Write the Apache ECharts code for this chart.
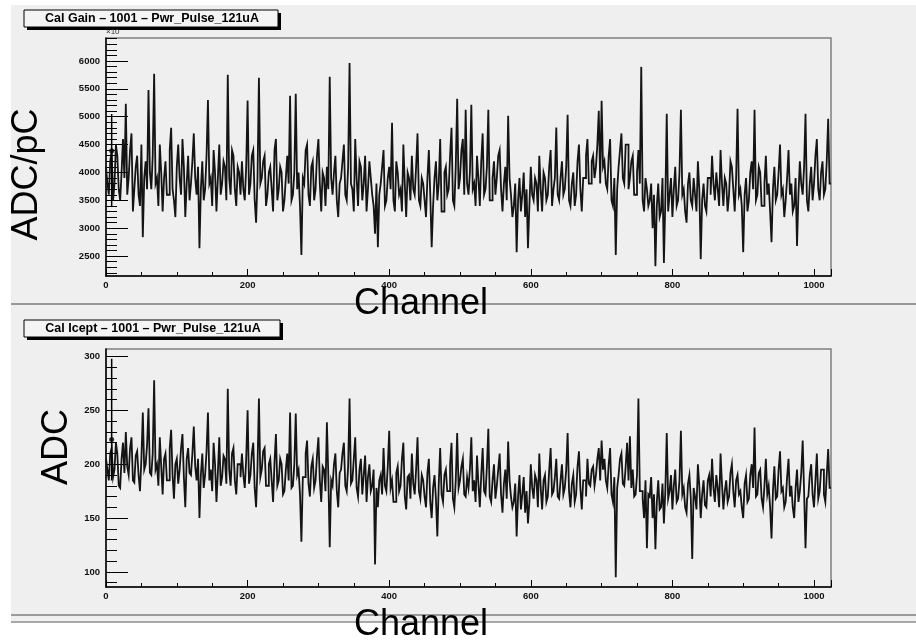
<!DOCTYPE html>
<html>
<head>
<meta charset="utf-8">
<script src="https://cdn.jsdelivr.net/npm/echarts@6/dist/echarts.min.js"></script>
<style>
  html, body { margin: 0; padding: 0; background: #ffffff; }
  #main { width: 916px; height: 642px; }
</style>
</head>
<body>
<div id="main"></div>
<script>
// channel bins, 2 channels per bin, 0..1024
var binWidth = 2;
var channelMax = 1024;

// Cal Gain values (ADC/pC), one per bin, 32 bins (64 channels) per row
var gainVals = [
  4100,3800,3600,4200,4400,3500,3800,4500,4300,3700,3500,4000,4600,3900,5230,3600,3900,4400,4700,3300,3700,4100,4300,3600,3400,4500,2840,3900,4200,3700,5480,4000,
  3700,4300,5770,3800,3900,3400,4500,4000,3300,3900,4200,3600,3600,4400,4800,3700,3500,3200,4100,4500,3900,3600,4600,4100,3200,3800,4300,3500,3800,4200,4700,3900,
  3600,4100,2640,3700,4200,3500,3700,4300,5300,3800,3900,3400,4400,4000,3300,3900,4500,3600,3800,4200,4100,3500,5750,3900,3600,4400,4300,3700,3400,4100,4000,3600,
  4200,3700,3500,4100,5290,3600,3800,4300,4400,3500,3100,3900,5700,3800,3900,4200,4300,3400,3600,4000,4100,3700,3300,4400,4600,3500,3700,4100,4000,3300,3500,3900,
  4300,3800,5375,3500,3600,4000,5410,3700,4000,3400,2520,3900,3800,4400,4500,3600,3400,4100,4200,3500,3700,4300,4600,3800,3300,4000,3900,3400,4100,3700,5714,3900,
  3600,4000,4300,3500,3200,3800,3900,4200,4500,3600,3500,4100,5964,3800,3700,3300,4600,3900,3400,4200,4100,3500,3800,4300,3300,3700,4200,3900,3600,3400,2900,3800,
  2660,3600,3800,4100,4400,3400,3500,3900,4100,3700,4893,3500,3300,4200,4000,3600,3700,3300,4500,3800,3200,4000,3900,3500,4300,3700,3600,4100,4700,3500,3400,3900,
  3800,3500,3200,3900,4400,3600,2660,3400,3900,4200,3500,3800,4600,3300,3300,4000,4100,3600,3700,4300,4800,3500,3400,4100,5320,3700,3900,4400,4600,3600,5125,3800,
  3600,4000,5214,3700,3800,3400,4300,3900,3400,4200,4700,3600,3700,4100,5125,3500,3500,3900,4200,3600,3900,4300,4400,3700,3300,3800,4100,3500,5018,3900,3600,3200,
  3400,3800,2570,3500,3900,3300,3600,4000,3200,3700,2640,3400,4100,3600,3500,3900,3800,3300,4300,3700,3300,4000,3900,3500,3600,4100,4400,3400,3700,3900,4804,3600,
  3500,3900,4200,3600,3700,4100,5036,3500,3400,3800,4000,3400,3600,4200,4500,3700,3300,3900,3900,4300,4600,3800,3800,4200,4300,3900,4100,4500,5107,3800,5286,4100,
  4200,3800,3700,4300,4600,3500,3400,3900,2518,3700,4100,4400,4700,3900,3800,4500,4500,3700,3900,4200,4300,3600,3600,4000,4400,3800,5893,3500,3300,3900,3700,3400,
  3500,3800,3000,3600,2320,3400,3800,3200,3300,3900,2375,3500,5053,3300,3600,3900,3200,3700,4100,3400,3500,4000,5125,3600,3700,3300,3100,3800,4000,3500,3400,3900,
  3600,3300,4200,3700,2446,3500,3800,3400,3300,3900,3900,3600,4300,3800,3500,4000,3700,3400,4400,3800,3400,3900,3800,3300,3600,4200,4100,3700,3300,3900,5143,3600,
  3700,3400,2571,3600,3900,3300,3500,4000,4200,3700,5125,3500,3600,4100,4000,3400,3400,3800,4300,3600,3800,3300,2750,3700,4100,3500,3600,4000,4500,3600,3700,3200,
  3500,3900,4400,3600,3800,3300,3400,3900,2680,3600,4200,3800,3600,4100,5053,3500,3300,3800,4100,3500,3800,4300,4600,3700,3500,4000,4200,3600,3700,4200,4964,3800
];

// Cal Icept values (ADC), one per bin, 32 bins (64 channels) per row
var icptVals = [
  205,195,185,210,215,188,195,220,210,180,178,205,220,192,230,198,190,215,225,185,183,208,212,190,175,205,248,195,200,218,252,192,
  190,210,278,195,200,180,225,198,172,205,210,185,185,215,232,190,168,200,205,182,195,215,228,188,160,205,215,192,190,210,235,198,
  185,205,150,190,210,178,190,212,248,185,195,175,220,200,165,192,225,180,188,208,205,182,270,195,180,210,215,185,172,200,200,188,
  210,190,178,205,250,182,190,210,220,178,160,198,261,188,195,212,215,180,180,200,205,185,165,202,228,180,185,205,200,172,175,195,
  210,185,248,178,180,200,247,190,195,172,128,188,188,210,222,182,170,198,205,178,185,208,225,185,165,198,195,175,239,190,123,185,
  180,200,210,175,160,192,195,210,220,180,175,198,261,182,185,205,225,178,170,195,205,172,190,208,165,188,200,175,180,195,107,178,
  160,185,190,172,215,180,175,198,231,178,185,165,165,192,198,175,180,205,220,170,158,188,190,168,210,182,172,195,225,175,168,190,
  185,170,160,192,205,165,150,178,190,168,133,182,215,172,165,190,195,175,175,200,220,168,160,185,229,178,185,198,205,172,170,188,
  178,195,225,175,185,165,208,182,160,190,215,175,172,198,233,170,165,185,200,168,180,195,210,172,155,182,195,168,221,185,170,160,
  165,182,133,170,190,158,172,188,155,175,145,165,200,178,168,190,185,160,210,178,158,185,190,165,170,195,215,172,175,188,205,170,
  168,185,200,172,178,195,229,175,160,182,190,165,172,198,212,178,158,185,185,170,205,182,180,195,198,180,190,205,215,185,222,195,
  205,185,178,200,215,172,165,188,95,178,190,205,210,182,180,198,220,185,226,178,195,170,172,190,261,175,175,168,150,185,122,172,
  170,188,150,172,121,165,185,158,160,182,145,175,229,168,175,190,158,180,195,165,168,185,231,172,178,160,155,182,190,168,112,178,
  170,158,200,180,150,172,185,162,160,185,190,170,205,178,165,190,178,160,210,182,158,175,185,165,170,192,200,175,160,185,190,172,
  175,160,150,182,190,165,168,190,200,178,234,170,172,192,195,168,160,180,205,172,180,160,131,175,198,168,170,195,212,175,178,160,
  165,188,205,170,180,160,150,178,195,165,175,192,222,175,122,168,170,190,200,172,160,185,210,168,175,195,195,172,165,190,214,178
];

// error bar drawn at the first channels: [low, mid, high]
var errChannel = 8;
var gainErrBar = [3400, 4390, 5050];
var icptErrBar = [185, 223, 298];

// axis ticks
var gainMajor = [2500,3000,3500,4000,4500,5000,5500,6000];
var gainMinor = [2200,2300,2400,2500,2600,2700,2800,2900,3000,3100,3200,3300,3400,3500,3600,3700,3800,3900,
  4000,4100,4200,4300,4400,4500,4600,4700,4800,4900,5000,5100,5200,5300,5400,5500,5600,5700,5800,5900,
  6000,6100,6200,6300,6400];
var icptMajor = [100,150,200,250,300];
var icptMinor = [90,100,110,120,130,140,150,160,170,180,190,200,210,220,230,240,250,260,270,280,290,300];

var gainRange = [2143, 6411];
var icptRange = [86, 307];

function toSteps(vals) {
  var d = vals.map(function (v, i) { return [i * binWidth, v]; });
  d.push([channelMax, vals[vals.length - 1]]);
  return d;
}

var chart = echarts.init(document.getElementById('main'), null, { renderer: 'canvas' });

var labelFont = { color: '#111', fontSize: 9.5, fontWeight: 'bold', fontFamily: 'Liberation Sans, Arial, sans-serif' };
var plainNum = function (v) { return String(v); };

function xAxisFor(idx) {
  return {
    type: 'value', gridIndex: idx, min: 0, max: channelMax, interval: 200,
    axisLine: { show: true, onZero: false, lineStyle: { color: '#000', width: 1.5 } },
    axisTick: { show: true, inside: true, length: 7, lineStyle: { color: '#000', width: 1 } },
    minorTick: { show: true, splitNumber: 4, length: 4, lineStyle: { color: '#000', width: 1 } },
    axisLabel: Object.assign({ margin: 4, showMaxLabel: false, formatter: plainNum }, labelFont),
    splitLine: { show: false }
  };
}

function yMajor(idx, range, ticks) {
  return {
    type: 'value', gridIndex: idx, min: range[0], max: range[1], position: 'left',
    axisLine: { show: true, onZero: false, lineStyle: { color: '#000', width: 1.5 } },
    axisTick: { show: true, inside: true, length: 22, customValues: ticks, lineStyle: { color: '#000', width: 1 } },
    axisLabel: Object.assign({ margin: 6, customValues: ticks, formatter: plainNum }, labelFont),
    splitLine: { show: false }
  };
}

function yMinor(idx, range, ticks) {
  return {
    type: 'value', gridIndex: idx, min: range[0], max: range[1], position: 'left',
    axisLine: { show: false },
    axisTick: { show: true, inside: true, length: 11, customValues: ticks, lineStyle: { color: '#000', width: 1 } },
    axisLabel: { show: false },
    splitLine: { show: false }
  };
}

function histSeries(xi, yi, vals) {
  return {
    type: 'line', xAxisIndex: xi, yAxisIndex: yi, step: 'end',
    data: toSteps(vals), showSymbol: false, symbol: 'none', silent: true,
    lineStyle: { color: '#141414', width: 1.8, join: 'miter' }, z: 3
  };
}

function errSeries(xi, yi, bar) {
  return [{
    type: 'line', xAxisIndex: xi, yAxisIndex: yi, symbol: 'none', silent: true,
    data: [[errChannel, bar[0]], [errChannel, bar[2]]],
    lineStyle: { color: '#000', width: 1.5 }, z: 4
  }, {
    type: 'scatter', xAxisIndex: xi, yAxisIndex: yi, silent: true,
    data: [[errChannel, bar[1]]], symbol: 'circle', symbolSize: 5,
    itemStyle: { color: '#000' }, z: 5
  }];
}

var titleFont = 'bold 12.5px "Liberation Sans", Arial, sans-serif';
var bigFont = '36px "Liberation Sans", Arial, sans-serif';

var option = {
  backgroundColor: '#ffffff',
  animation: false,
  grid: [
    { left: 106, top: 38, width: 725, height: 238, show: true, backgroundColor: '#efefef', borderColor: '#808080', borderWidth: 1.5 },
    { left: 106, top: 349, width: 725, height: 238, show: true, backgroundColor: '#efefef', borderColor: '#808080', borderWidth: 1.5 }
  ],
  xAxis: [xAxisFor(0), xAxisFor(1)],
  yAxis: [
    yMajor(0, gainRange, gainMajor), yMinor(0, gainRange, gainMinor),
    yMajor(1, icptRange, icptMajor), yMinor(1, icptRange, icptMinor)
  ],
  series: [histSeries(0, 0, gainVals), histSeries(1, 2, icptVals)]
    .concat(errSeries(0, 0, gainErrBar)).concat(errSeries(1, 2, icptErrBar)),
  graphic: [
    // canvas / pad backgrounds
    { type: 'rect', z: -10, silent: true, shape: { x: 11, y: 5, width: 905, height: 618 }, style: { fill: '#efefef' } },
    { type: 'line', z: -9, silent: true, shape: { x1: 11, y1: 304, x2: 916, y2: 304 }, style: { stroke: '#9a9a9a', lineWidth: 2 } },
    { type: 'line', z: -9, silent: true, shape: { x1: 11, y1: 615, x2: 916, y2: 615 }, style: { stroke: '#9a9a9a', lineWidth: 2 } },
    { type: 'line', z: -9, silent: true, shape: { x1: 11, y1: 622, x2: 916, y2: 622 }, style: { stroke: '#a8a8a8', lineWidth: 2 } },
    // title boxes
    { type: 'rect', z: 10, silent: true, shape: { x: 27, y: 13, width: 254, height: 17 }, style: { fill: '#000' } },
    { type: 'rect', z: 11, silent: true, shape: { x: 24, y: 10, width: 254, height: 17 }, style: { fill: '#f4f4f4', stroke: '#000', lineWidth: 1 } },
    { type: 'text', z: 12, silent: true, x: 152, y: 18.5, style: { text: 'Cal Gain – 1001 – Pwr_Pulse_121uA', font: titleFont, fill: '#000', align: 'center', verticalAlign: 'middle' } },
    { type: 'rect', z: 10, silent: true, shape: { x: 27, y: 323, width: 256, height: 17 }, style: { fill: '#000' } },
    { type: 'rect', z: 11, silent: true, shape: { x: 24, y: 320, width: 256, height: 17 }, style: { fill: '#f4f4f4', stroke: '#000', lineWidth: 1 } },
    { type: 'text', z: 12, silent: true, x: 153, y: 328.5, style: { text: 'Cal Icept – 1001 – Pwr_Pulse_121uA', font: titleFont, fill: '#000', align: 'center', verticalAlign: 'middle' } },
    // exponent marker
    { type: 'text', z: 12, silent: true, x: 106, y: 32, style: { text: '×10', font: '8px "Liberation Sans", Arial, sans-serif', fill: '#333', align: 'left', verticalAlign: 'middle' } },
    // big axis titles
    { type: 'text', z: 12, silent: true, x: 27.5, y: 174.5, rotation: Math.PI / 2, style: { text: 'ADC/pC', font: bigFont, fill: '#000', align: 'center', verticalAlign: 'middle' } },
    { type: 'text', z: 12, silent: true, x: 421, y: 304, style: { text: 'Channel', font: bigFont, fill: '#000', align: 'center', verticalAlign: 'middle' } },
    { type: 'text', z: 12, silent: true, x: 57.5, y: 447, rotation: Math.PI / 2, style: { text: 'ADC', font: bigFont, fill: '#000', align: 'center', verticalAlign: 'middle' } },
    { type: 'text', z: 12, silent: true, x: 421, y: 625, style: { text: 'Channel', font: bigFont, fill: '#000', align: 'center', verticalAlign: 'middle' } }
  ]
};

chart.setOption(option);
</script>
</body>
</html>
